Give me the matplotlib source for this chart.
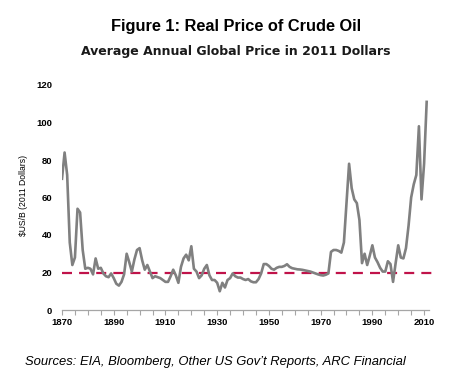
import matplotlib
matplotlib.use("Agg")
import matplotlib.pyplot as plt
from matplotlib.ticker import MultipleLocator

years = list(range(1870, 2012))
prices = [
    70, 84, 72, 36, 24, 28, 54, 52, 32, 22,        # 1870-1879
    22.5, 22, 19, 27.5, 22, 22.5, 19.5, 18, 17.5, 19.5,  # 1880-1889
    17, 14, 13, 15, 19, 30, 25.5, 20.5, 27, 32,    # 1890-1899
    33, 26.5, 21.5, 24, 20.5, 17, 18, 17.5, 17, 16,  # 1900-1909
    15, 15, 18, 21.5, 18.5, 14.5, 23, 27.5, 29.5, 26.5,  # 1910-1919
    34, 22, 20.5, 17, 18.5, 22, 24, 18.5, 16, 16,  # 1920-1929
    14.5, 10, 14.5, 12, 16, 17, 19.5, 18, 17.3, 17.3,  # 1930-1939
    16.5, 16, 16.5, 15.3, 14.8, 14.8, 16.5, 19.5, 24.5, 24.5,  # 1940-1949
    23.5, 22, 21.5, 22.5, 23, 23, 23.5, 24.4, 23, 22.3,  # 1950-1959
    22, 21.7, 21.6, 21.4, 21.1, 20.8, 20.5, 20, 19.5, 19,  # 1960-1969
    18.6, 18.4, 18.8, 19.5, 31, 32, 32, 31.5, 30.6, 36,  # 1970-1979
    57, 78, 65, 59, 57, 48, 25, 30, 24, 29,        # 1980-1989
    34.5, 28, 25.5, 22.5, 20.5, 20.5, 26, 24.5, 15, 25,  # 1990-1999
    34.5, 28, 27.5, 33, 45, 60, 67, 72, 98, 59,    # 2000-2009
    78, 111,                                        # 2010-2011
]
long_run_avg = 20
x_tick_labels = [1870, 1890, 1910, 1930, 1950, 1970, 1990, 2010]
y_ticks = [0, 20, 40, 60, 80, 100, 120]

W, H = 450, 386
fig = plt.figure(figsize=(W / 100, H / 100), dpi=100)
fig.patch.set_facecolor("white")
ax = fig.add_axes([62 / W, (H - 310) / H, (429 - 62) / W, (310 - 85) / H])

ax.plot(years, prices, color="#808080", lw=1.9, solid_joinstyle="round", zorder=3)
ax.plot([1870, 2013.2], [long_run_avg, long_run_avg], color="#C0134A", lw=1.6,
        dashes=(4.5, 3.2), clip_on=False, zorder=2)

ax.set_xlim(1870, 2011.9)
ax.set_ylim(0, 120)

for s in ["top", "right", "left"]:
    ax.spines[s].set_visible(False)
ax.spines["bottom"].set_color("#A6A6A6")
ax.spines["bottom"].set_linewidth(0.9)

ax.set_xticks(x_tick_labels)
ax.xaxis.set_minor_locator(MultipleLocator(5))
ax.tick_params(axis="x", which="both", direction="out", length=3.5, width=0.8,
               color="#A6A6A6", pad=2)
ax.set_xticklabels([str(v) for v in x_tick_labels], fontsize=6.8,
                   fontweight="bold", family="Liberation Sans")
ax.set_yticks(y_ticks)
ax.set_yticklabels([str(v) for v in y_ticks], fontsize=6.8,
                   fontweight="bold", family="Liberation Sans")
ax.tick_params(axis="y", length=0, pad=7)

fig.text(24 / W, 1 - 195 / H, r"\$US/B (2011 Dollars)", rotation=90,
         ha="center", va="center", fontsize=6.2, family="Liberation Sans")

fig.text(236 / W, 1 - 27 / H, "Figure 1: Real Price of Crude Oil", ha="center",
         va="center", fontsize=11.8, fontweight="bold", family="Liberation Sans")
fig.text(236 / W, 1 - 52 / H, "Average Annual Global Price in 2011 Dollars",
         ha="center", va="center", fontsize=9, fontweight="bold",
         family="DejaVu Sans", color="#1a1a1a")
fig.text(25 / W, 1 - 362 / H,
         "Sources: EIA, Bloomberg, Other US Gov\u2019t Reports, ARC Financial",
         ha="left", va="center", fontsize=9.4, style="italic",
         family="Liberation Sans")

fig.savefig("out.png", dpi=100, facecolor="white")
